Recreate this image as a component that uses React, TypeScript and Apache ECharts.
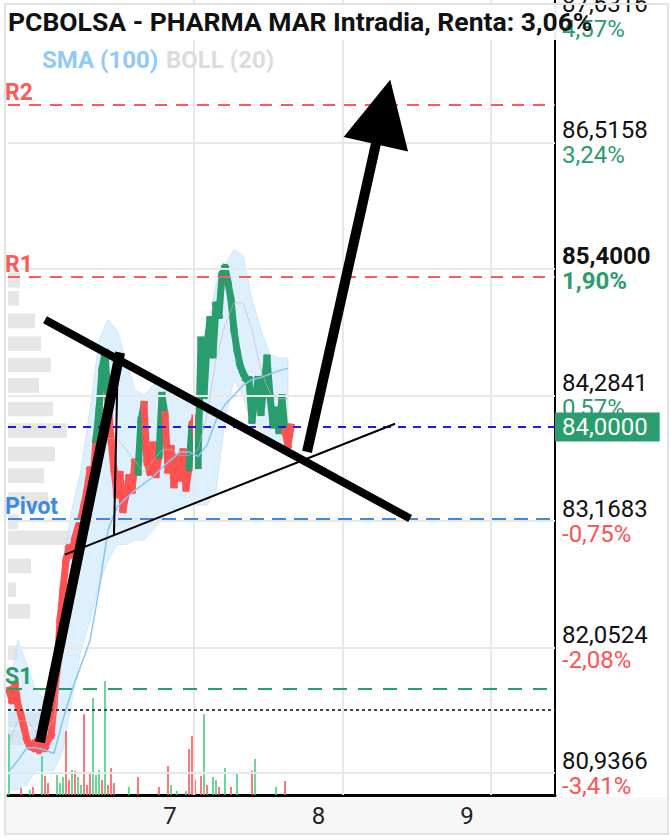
import React, { useEffect, useRef } from 'react';
import * as echarts from 'echarts';

// ---------- texts ----------
const TITLE = 'PCBOLSA - PHARMA MAR Intradia, Renta: 3,06%';
const LEGEND_SMA = 'SMA (100)';
const LEGEND_BOLL = 'BOLL (20)';

// ---------- axes ----------
const DAY_LABELS = [7, 8, 9];
const X_MIN = 5.7475;
const X_MAX = 9.431;
const Y_MIN = 80.742;
const Y_MAX = 87.782;
const Y_TICKS = [80.9366, 82.0524, 83.1683, 84.2841, 85.4, 86.5158, 87.6316];
const Y_TICK_PCT = ['-3,41%', '-2,08%', '-0,75%', '0,57%', '1,90%', '3,24%', '4,57%'];
const Y_TICK_BOLD = 85.4;

// ---------- time grid of the intraday bars (in days) ----------
const T0 = 5.7542;
const BAR = 3 / 148.5;

// ---------- price (one value per bar) ----------
const PRICE = [
  81.67, 81.58, 81.72, 81.54, 81.45, 81.34, 81.23, 81.18, 81.16, 81.21,
  81.14, 81.19, 81.16, 81.23, 81.27, 81.54, 81.85, 82.29, 82.56, 82.82,
  82.93, 82.87, 83.02, 83.11, 83.19, 83.31, 83.44, 83.62, 83.53, 83.89,
  84.15, 84.51, 84.66, 84.24, 83.89, 83.62, 83.4, 83.58, 83.27, 83.4,
  83.55, 83.44, 83.69, 83.6, 84.06, 84.2, 83.69, 83.6, 83.84, 83.58,
  83.75, 84.28, 84.11, 83.62, 83.81, 83.49, 83.73, 83.55, 83.78, 83.46,
  83.64, 84.02, 84.08, 83.66, 84.77, 84.28, 84.73, 84.95, 84.64, 85.08,
  84.99, 85.35, 85.41, 85.28, 85.13, 84.86, 84.68, 84.55, 84.48, 84.43,
  84.42, 84.06, 84.24, 84.42, 84.13, 84.37, 84.61, 84.28, 84.02, 84.15,
  83.97, 84.26, 83.96, 83.84, 84.0,
];
// colour runs of the price line: [direction, number of bars]
const PRICE_RUNS: [string, number][] = [
  ['d', 30], ['u', 4], ['d', 10], ['u', 2], ['d', 5], ['u', 2],
  ['d', 8], ['u', 1], ['d', 2], ['u', 29], ['d', 2],
];

// ---------- indicators (one value every 3 bars) ----------
const BOLL_UPPER = [
  81.67, 82.11, 81.89, 81.67, 81.58, 81.85, 82.82, 83.27, 83.62, 84.15,
  84.77, 84.95, 84.86, 84.59, 84.33, 84.28, 84.37, 84.42, 84.28, 84.24,
  84.24, 84.28, 84.86, 85.26, 85.44, 85.57, 85.52, 85.13, 84.86, 84.64,
  84.61, 84.61,
];
const BOLL_LOWER = [
  80.79, 80.79, 80.83, 80.96, 80.96, 80.96, 81.14, 81.58, 82.03, 82.29,
  82.6, 82.82, 82.96, 82.96, 83.0, 83.0, 83.09, 83.18, 83.27, 83.27,
  83.31, 83.31, 83.31, 83.44, 84.06, 84.42, 84.28, 84.02, 83.97, 83.89,
  83.84, 83.8,
];
const BOLL_MID = [
  81.2, 81.4, 81.4, 81.3, 81.3, 81.4, 82.0, 82.4, 82.8, 83.2,
  83.7, 83.9, 83.9, 83.8, 83.7, 83.6, 83.7, 83.8, 83.8, 83.75,
  83.75, 83.8, 84.1, 84.6, 84.9, 85.1, 85.1, 84.86, 84.5, 84.3,
  84.25, 84.25,
];
const SMA100 = [
  80.95, 81.05, 81.16, 81.16, 81.14, 81.11, 81.41, 81.67, 81.89, 82.11,
  82.56, 83.09, 83.29, 83.37, 83.44, 83.5, 83.56, 83.64, 83.71, 83.78,
  83.78, 83.74, 83.84, 84.06, 84.2, 84.28, 84.37, 84.42, 84.44, 84.47,
  84.5, 84.52,
];
const IND_EVERY = 3;

// ---------- volume ----------
const VOL_BAR = [0, 4, 7, 8, 11, 12, 13, 16, 17, 18, 19, 20, 21, 22, 23, 24, 25, 26, 27, 28,
  29, 30, 31, 32, 33, 34, 35, 40, 43, 50, 53, 54, 56, 59, 60, 61, 62, 64, 65, 66,
  68, 69, 70, 72, 74, 76, 81, 82, 89, 92];
const VOL = [61, 7, 5, 8, 39, 19, 12, 20, 12, 18, 64, 15, 25, 24, 18, 10, 81, 10, 22, 97,
  20, 25, 15, 114, 10, 27, 12, 8, 18, 8, 29, 10, 4, 4, 46, 59, 15, 19, 81, 10,
  18, 15, 8, 27, 8, 21, 24, 36, 8, 14];
const VOL_DIR = 'udududduuu' + 'dduduudddu' + 'uududddudd' + 'duuuddddud' + 'uudududuud';

// ---------- volume profile ----------
const PROFILE_PRICE = [85.3, 85.14, 84.94, 84.74, 84.55, 84.37, 84.16, 83.97, 83.76, 83.57,
  83.36, 83.16, 83.02, 82.77, 82.56, 82.37, 82.0, 81.41, 81.25];
const PROFILE_VOL = [12, 11, 27, 33, 43, 31, 45, 59, 47, 36, 40, 10, 62, 23, 8, 22, 10, 45, 45];

// ---------- levels ----------
const R2 = 86.85;
const R1 = 85.33;
const PIVOT = 83.19;
const S1 = 81.68;
const PREV_CLOSE = 81.5;
const LAST = 84.0;

// ---------- hand drawn trend lines (day, price) ----------
const THICK_TRENDS: [number, number][][] = [
  [[5.963, 81.21], [6.502, 84.66]],
  [[5.997, 84.95], [8.455, 83.19]],
];
const THIN_TRENDS: [number, number][][] = [
  [[6.488, 84.66], [6.461, 83.04]],
  [[6.131, 82.87], [8.354, 84.03]],
];
const ARROW_TREND: [number, number][] = [[7.761, 83.78], [8.273, 86.79]];

// ---------- colours ----------
const GREEN = '#2a9d6e';
const RED = '#ff5252';
const FONT = 'Roboto';

const fmt = (v: number) => v.toFixed(4).replace('.', ',');
const tBar = (i: number) => T0 + i * BAR;
const tInd = (j: number) => T0 + j * IND_EVERY * BAR;

export default function App() {
  const ref = useRef<HTMLDivElement>(null);

  useEffect(() => {
    if (!ref.current) return;
    const chart = echarts.init(ref.current, null, { renderer: 'svg' });

    const priceDir: string[] = [];
    PRICE_RUNS.forEach(([d, n]) => {
      for (let k = 0; k < n; k++) priceDir.push(d);
    });

    const levelLabel = (text: string, color: string) => ({
      show: true,
      position: 'insideStartTop',
      formatter: text,
      color,
      fontSize: 23,
      fontWeight: 'bold',
      fontFamily: FONT,
      distance: [-3, 1],
    });

    const option: any = {
      animation: false,
      textStyle: { fontFamily: FONT },
      grid: { left: 8, right: 116, top: 0, bottom: 45, containLabel: false, outerBoundsMode: 'none' },
      xAxis: [
        {
          type: 'value',
          min: X_MIN,
          max: X_MAX,
          position: 'bottom',
          axisLine: { show: true, onZero: false, lineStyle: { color: '#000', width: 3 } },
          axisTick: { show: false },
          splitLine: { show: false },
          axisLabel: {
            formatter: (v: number) => (DAY_LABELS.indexOf(v) >= 0 ? String(v) : ''),
            fontSize: 24,
            color: '#222',
            margin: 9,
            padding: [0, 48, 0, 0],
            fontFamily: FONT,
          },
        },
        { type: 'value', min: 0, max: 547, show: false },
      ],
      yAxis: [
        {
          type: 'value',
          position: 'right',
          min: Y_MIN,
          max: Y_MAX,
          axisLine: { show: true, onZero: false, lineStyle: { color: '#000', width: 2 } },
          axisTick: { show: false },
          splitLine: { show: false },
          axisLabel: {
            customValues: Y_TICKS,
            margin: 7,
            align: 'left',
            formatter: (v: number) => {
              let k = -1;
              Y_TICKS.forEach((t, i) => {
                if (Math.abs(t - v) < 0.001) k = i;
              });
              if (k < 0) return '';
              const bold = Math.abs(Y_TICKS[k] - Y_TICK_BOLD) < 0.001;
              const pct = Y_TICK_PCT[k];
              const up = pct.charAt(0) !== '-';
              const pStyle = up ? (bold ? 'ub' : 'u') : 'd';
              return `{${bold ? 'nb' : 'n'}|${fmt(Y_TICKS[k])}}\n{${pStyle}|${pct}}`;
            },
            rich: {
              n: { fontSize: 24, color: '#111', lineHeight: 25, fontFamily: FONT },
              nb: { fontSize: 24, color: '#111', lineHeight: 25, fontWeight: 'bold', fontFamily: FONT },
              u: { fontSize: 24, color: GREEN, lineHeight: 25, fontFamily: FONT },
              ub: { fontSize: 24, color: GREEN, lineHeight: 25, fontWeight: 'bold', fontFamily: FONT },
              d: { fontSize: 24, color: RED, lineHeight: 25, fontFamily: FONT },
            },
          },
        },
        { type: 'value', min: 0, max: 795, show: false },
      ],
      graphic: [
        {
          type: 'rect',
          z: -10,
          silent: true,
          shape: { x: 6, y: 797, width: 661, height: 36 },
          style: { fill: '#f7f7f7' },
        },
        {
          type: 'rect',
          z: 90,
          silent: true,
          shape: { x: 6, y: 5, width: 551, height: 35 },
          style: { fill: 'rgba(255,255,255,0.93)' },
        },
        {
          type: 'text',
          z: 95,
          silent: true,
          x: 8,
          y: 21,
          style: { text: TITLE, font: `bold 26.5px ${FONT}`, fill: '#111', verticalAlign: 'middle' },
        },
        {
          type: 'text',
          z: 95,
          silent: true,
          x: 42,
          y: 60,
          style: { text: LEGEND_SMA, font: `bold 24px ${FONT}`, fill: '#90caf9', verticalAlign: 'middle' },
        },
        {
          type: 'text',
          z: 95,
          silent: true,
          x: 166,
          y: 60,
          style: { text: LEGEND_BOLL, font: `bold 24px ${FONT}`, fill: '#dcdcdc', verticalAlign: 'middle' },
        },
        {
          type: 'rect',
          z: 100,
          silent: true,
          shape: { x: 5, y: 4, width: 663, height: 830 },
          style: { fill: 'none', stroke: '#e2e2e2', lineWidth: 2 },
        },
      ],
      series: [
        // grid lines
        {
          type: 'line',
          data: [],
          z: 0,
          silent: true,
          markLine: {
            symbol: 'none',
            silent: true,
            label: { show: false },
            lineStyle: { color: '#e8e8e8', type: 'solid', width: 2 },
            data: [
              ...Y_TICKS.map((v) => ({ yAxis: v })),
              ...DAY_LABELS.map((d) => ({ xAxis: d })),
            ],
          },
        },
        // volume profile
        {
          type: 'custom',
          xAxisIndex: 1,
          yAxisIndex: 0,
          z: 1,
          silent: true,
          data: PROFILE_PRICE.map((p, k) => [PROFILE_VOL[k], p]),
          renderItem: (params: any, api: any) => {
            const a = api.coord([0, api.value(1)]);
            const b = api.coord([api.value(0), api.value(1)]);
            const h = api.size([0, 0.13])[1];
            return {
              type: 'rect',
              shape: { x: a[0], y: a[1] - h / 2, width: b[0] - a[0], height: h },
              style: { fill: '#e6e6e6' },
            };
          },
        },
        // bollinger band
        {
          type: 'custom',
          z: 2,
          silent: true,
          data: [[tInd(0), BOLL_UPPER[0]]],
          renderItem: (params: any, api: any) => {
            const up = BOLL_UPPER.map((v, j) => api.coord([tInd(j), v]));
            const lo = BOLL_LOWER.map((v, j) => api.coord([tInd(j), v])).reverse();
            return {
              type: 'polygon',
              shape: { points: up.concat(lo) },
              style: { fill: 'rgba(200,230,252,0.6)', stroke: 'rgba(200,230,252,0.9)', lineWidth: 1 },
            };
          },
        },
        // volume
        {
          type: 'bar',
          xAxisIndex: 0,
          yAxisIndex: 1,
          z: 3,
          silent: true,
          barWidth: 2,
          data: VOL_BAR.map((b, k) => ({
            value: [tBar(b), VOL[k]],
            itemStyle: { color: VOL_DIR.charAt(k) === 'u' ? 'rgba(70,205,125,0.8)' : 'rgba(255,85,85,0.8)' },
          })),
        },
        // price
        {
          type: 'custom',
          z: 4,
          silent: true,
          data: PRICE.map((p, i) => [tBar(i), p]),
          renderItem: (params: any, api: any) => {
            const i = params.dataIndex;
            if (i === 0) return null;
            const a = api.coord([tBar(i - 1), PRICE[i - 1]]);
            const b = api.coord([api.value(0), api.value(1)]);
            return {
              type: 'line',
              shape: { x1: a[0], y1: a[1], x2: b[0], y2: b[1] },
              style: { stroke: priceDir[i] === 'u' ? GREEN : RED, lineWidth: 7, lineCap: 'square' },
            };
          },
        },
        {
          type: 'line',
          z: 5,
          silent: true,
          showSymbol: false,
          data: BOLL_MID.map((v, j) => [tInd(j), v]),
          lineStyle: { color: 'rgba(205,180,180,0.6)', width: 1 },
        },
        {
          type: 'line',
          z: 5,
          silent: true,
          showSymbol: false,
          data: SMA100.map((v, j) => [tInd(j), v]),
          lineStyle: { color: '#86c5f4', width: 1.5 },
        },
        // levels
        {
          type: 'line',
          data: [],
          z: 6,
          silent: true,
          markLine: {
            symbol: 'none',
            silent: true,
            data: [
              { yAxis: R2, lineStyle: { color: '#ff5a5a', type: [12, 9], width: 2 }, label: levelLabel('R2', '#ff5a5a') },
              { yAxis: R1, lineStyle: { color: '#ff5a5a', type: [12, 9], width: 2 }, label: levelLabel('R1', '#ff5a5a') },
              { yAxis: PIVOT, lineStyle: { color: '#3b8be3', type: [14, 8], width: 2 }, label: levelLabel('Pivot', '#3b8be3') },
              { yAxis: S1, lineStyle: { color: GREEN, type: [14, 11], width: 2 }, label: levelLabel('S1', GREEN) },
              { yAxis: PREV_CLOSE, lineStyle: { color: '#444', type: [3, 3], width: 2 }, label: { show: false } },
              {
                yAxis: LAST,
                lineStyle: { color: '#1c1ce0', type: [8, 7], width: 2 },
                label: {
                  show: true,
                  position: 'end',
                  distance: 0,
                  formatter: fmt(LAST),
                  color: '#fff',
                  backgroundColor: GREEN,
                  fontSize: 24,
                  lineHeight: 24,
                  fontFamily: FONT,
                  padding: [3, 12, 2, 7],
                },
              },
            ],
          },
        },
        // hand drawn trend lines
        {
          type: 'lines',
          coordinateSystem: 'cartesian2d',
          z: 10,
          silent: true,
          lineStyle: { color: '#000', width: 10, opacity: 1 },
          data: THICK_TRENDS.map((c, k) => ({ coords: c, lineStyle: { width: k === 0 ? 10 : 8 } })),
        },
        {
          type: 'lines',
          coordinateSystem: 'cartesian2d',
          z: 10,
          silent: true,
          lineStyle: { color: '#000', width: 2, opacity: 1 },
          data: THIN_TRENDS.map((c) => ({ coords: c })),
        },
        {
          type: 'lines',
          coordinateSystem: 'cartesian2d',
          z: 10,
          silent: true,
          symbol: ['none', 'path://M50 0 L100 100 L0 100 Z'],
          symbolSize: [1, 66],
          lineStyle: { color: '#000', width: 10, opacity: 1 },
          itemStyle: { color: '#000' },
          data: [{ coords: ARROW_TREND }],
        },
      ],
    };

    chart.setOption(option);
    return () => chart.dispose();
  }, []);

  return (
    <div
      ref={ref}
      style={{ position: 'fixed', left: 0, top: 0, width: 671, height: 840, background: '#fff' }}
    />
  );
}
